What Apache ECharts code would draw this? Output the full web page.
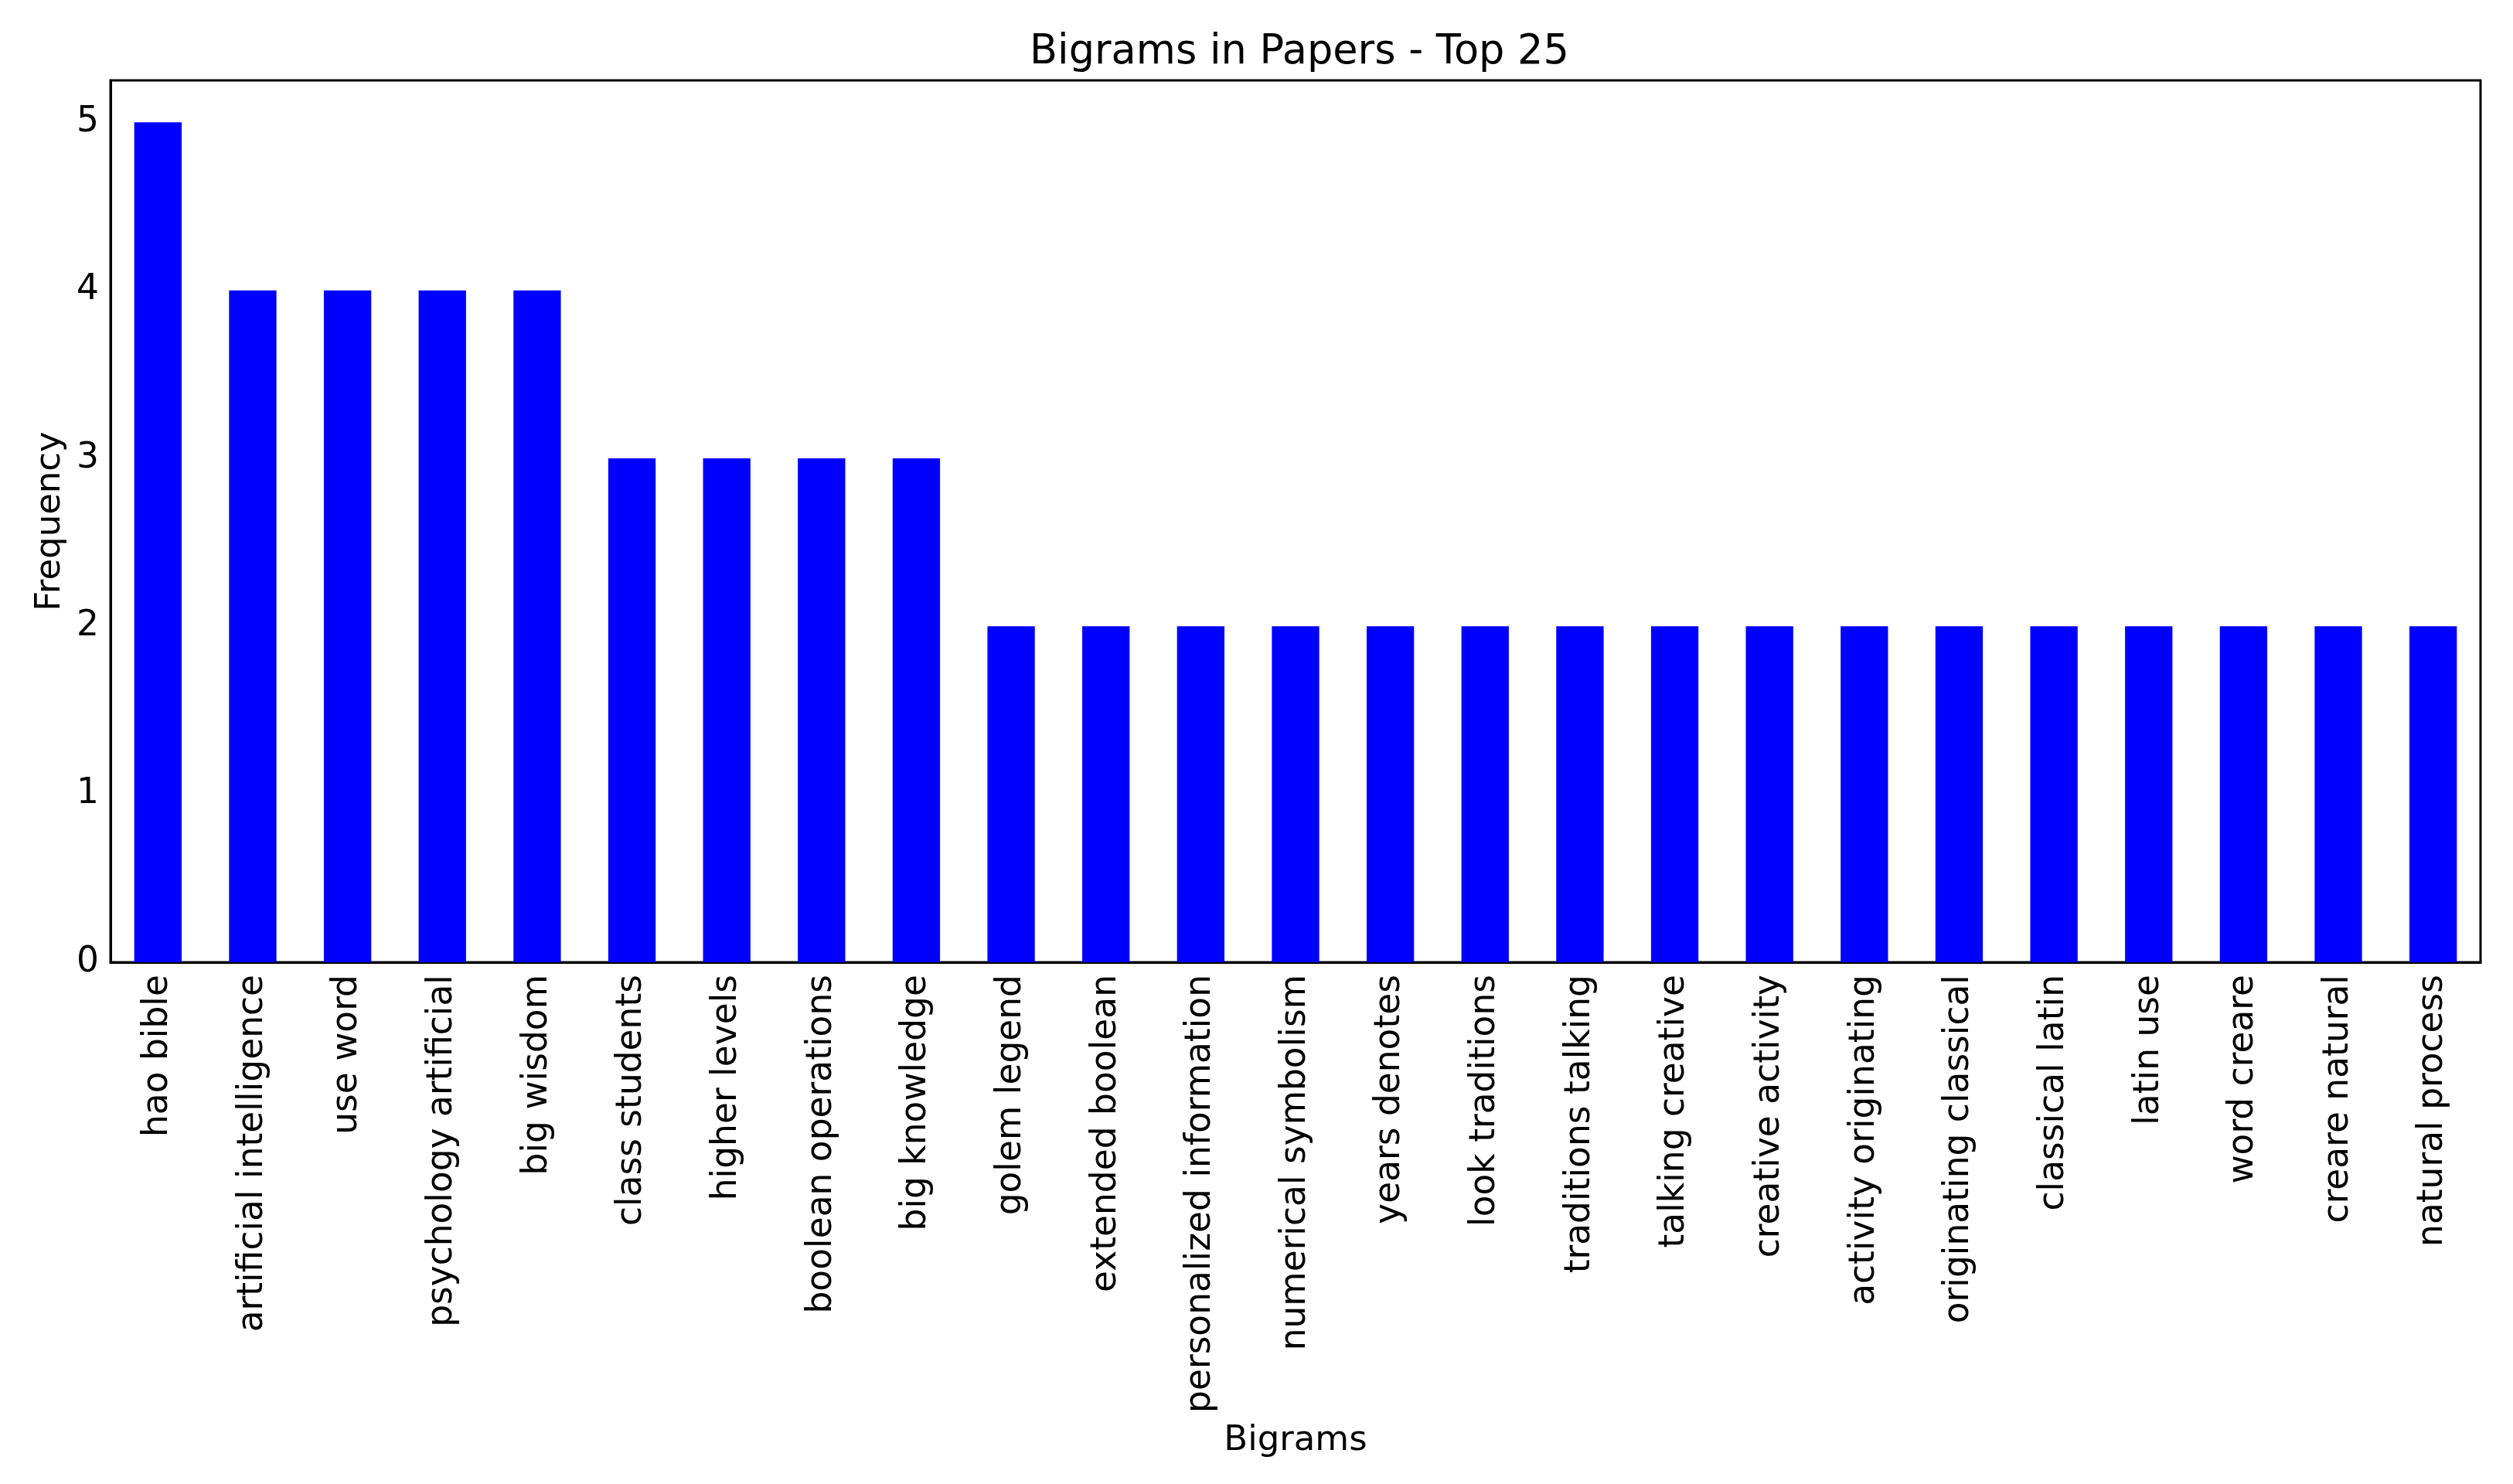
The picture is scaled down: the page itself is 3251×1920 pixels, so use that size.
<!DOCTYPE html>
<html>
<head>
<meta charset="utf-8">
<script src="https://cdn.jsdelivr.net/npm/echarts@6/dist/echarts.min.js"></script>
<style>
html,body{margin:0;padding:0;background:#fff;}
#chart{width:3251px;height:1920px;}
</style>
</head>
<body>
<div id="chart"></div>
<script>
const titleText = 'Bigrams in Papers - Top 25';
const xAxisName = 'Bigrams';
const yAxisName = 'Frequency';
const bigrams = [
  'hao bible', 'artificial intelligence', 'use word', 'psychology artificial', 'big wisdom',
  'class students', 'higher levels', 'boolean operations', 'big knowledge', 'golem legend',
  'extended boolean', 'personalized information', 'numerical symbolism', 'years denotes', 'look traditions',
  'traditions talking', 'talking creative', 'creative activity', 'activity originating', 'originating classical',
  'classical latin', 'latin use', 'word creare', 'creare natural', 'natural process'
];
const frequencies = [5, 4, 4, 4, 4, 3, 3, 3, 3, 2, 2, 2, 2, 2, 2, 2, 2, 2, 2, 2, 2, 2, 2, 2, 2];
const yTicks = [0, 1, 2, 3, 4, 5];

const font = "'DejaVu Sans', sans-serif";
const chart = echarts.init(document.getElementById('chart'), null, {renderer: 'canvas'});
chart.setOption({
  backgroundColor: '#ffffff',
  animation: false,
  title: {
    text: titleText,
    left: 1676,
    textAlign: 'center',
    top: 37,
    textStyle: {fontFamily: font, fontSize: 52.5, fontWeight: 'normal', color: '#000'}
  },
  grid: {
    left: 143, right: 42, top: 104, bottom: 675,
    show: true, borderColor: '#000', borderWidth: 3, backgroundColor: 'transparent'
  },
  xAxis: {
    type: 'category',
    data: bigrams,
    name: xAxisName,
    nameLocation: 'middle',
    nameGap: 597,
    nameTextStyle: {fontFamily: font, fontSize: 45, color: '#000', verticalAlign: 'top'},
    axisLine: {show: true, lineStyle: {color: '#000', width: 3}},
    axisTick: {show: false},
    axisLabel: {rotate: 90, interval: 0, margin: 16, fontFamily: font, fontSize: 45.5, color: '#000'},
    splitLine: {show: false}
  },
  yAxis: {
    type: 'value',
    min: 0,
    max: 5.25,
    interval: 1,
    name: yAxisName,
    nameLocation: 'middle',
    nameGap: 52,
    nameRotate: 90,
    nameTextStyle: {fontFamily: font, fontSize: 45, color: '#000'},
    axisLine: {show: true, lineStyle: {color: '#000', width: 3}},
    axisTick: {show: false},
    axisLabel: {
      margin: 15, fontFamily: font, fontSize: 45.5, color: '#000',
      formatter: function (v) { return yTicks.indexOf(v) >= 0 ? String(v) : ''; }
    },
    splitLine: {show: false}
  },
  series: [{
    type: 'bar',
    data: frequencies,
    barWidth: '50%',
    itemStyle: {color: '#0000ff'}
  }]
});
</script>
</body>
</html>
